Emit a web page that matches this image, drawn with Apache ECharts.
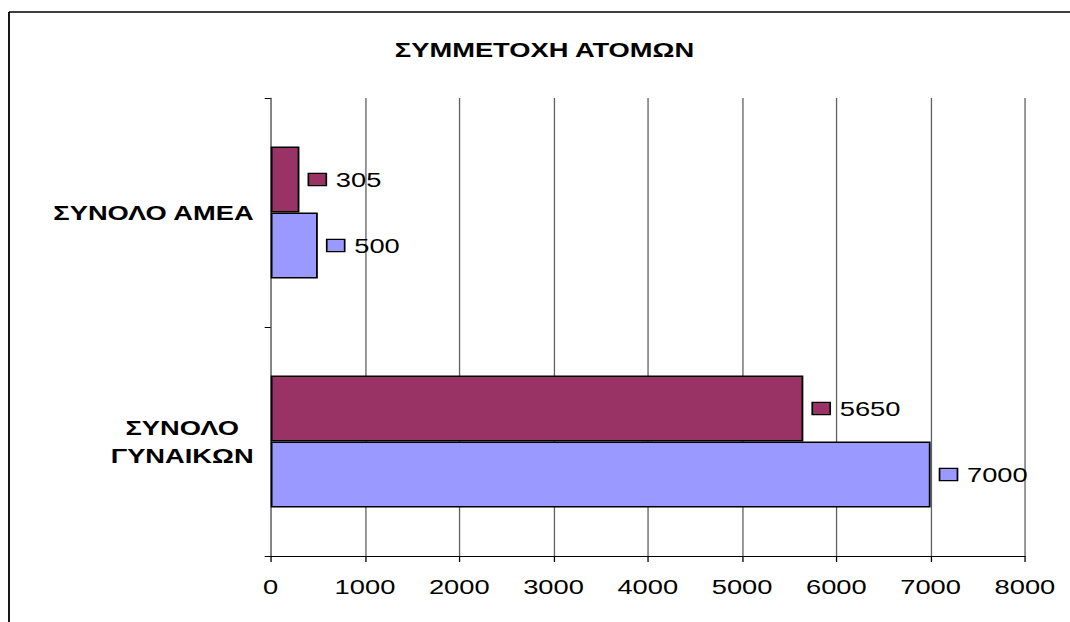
<!DOCTYPE html>
<html>
<head>
<meta charset="utf-8">
<script src="https://cdn.jsdelivr.net/npm/echarts@6/dist/echarts.min.js"></script>
<style>
  html, body { margin: 0; padding: 0; background: #fff; overflow: hidden; }
  #wrap { width: 1070px; height: 622px; overflow: hidden; }
  #c { width: 823px; height: 622px; transform: scaleX(1.3); transform-origin: 0 0; }
</style>
</head>
<body>
<div id="wrap"><div id="c"></div></div>
<script>
const S = 1.3; // horizontal stretch of the reference picture
const titleText = 'ΣΥΜΜΕΤΟΧΗ ΑΤΟΜΩΝ';
const categories = ['ΣΥΝΟΛΟ\nΓΥΝΑΙΚΩΝ', 'ΣΥΝΟΛΟ ΑΜΕΑ'];
const purpleValues = [5650, 305];
const blueValues = [7000, 500];
const xMin = 0, xMax = 8000, xInterval = 1000;

const FONT = 'Liberation Sans, Arial, sans-serif';
const BLUE = '#9999FF', PURPLE = '#993366';

function valueLabel(color) {
  return {
    show: true,
    position: 'right',
    distance: 7.5,
    formatter: p => '{sq|}{v|' + p.value + '}',
    rich: {
      sq: { width: 12.5, height: 11, backgroundColor: color, borderColor: '#000', borderWidth: 1.3 },
      v: { fontSize: 21, fontFamily: FONT, color: '#000', padding: [0, 0, 0, 8] }
    }
  };
}

const chart = echarts.init(document.getElementById('c'), null, { renderer: 'svg' });
chart.setOption({
  animation: false,
  backgroundColor: '#fff',
  title: {
    text: titleText,
    left: 538 / S, top: 34, textAlign: 'center',
    textStyle: { fontSize: 21, fontWeight: 'bold', fontFamily: FONT, color: '#000' }
  },
  graphic: [
    { type: 'line', silent: true, shape: { x1: 9 / S, y1: 12, x2: 2000, y2: 12 }, style: { stroke: '#000', lineWidth: 1.4 } },
    { type: 'line', silent: true, shape: { x1: 9 / S, y1: 12, x2: 9 / S, y2: 2000 }, style: { stroke: '#000', lineWidth: 1.4 } }
  ],
  grid: { left: 270.7 / S, right: 45 / S, top: 98, bottom: 66, containLabel: false },
  xAxis: {
    type: 'value', min: xMin, max: xMax, interval: xInterval,
    axisLine: { show: true, lineStyle: { color: '#000', width: 1.2 } },
    axisTick: { show: true, length: 6, lineStyle: { color: '#000' } },
    axisLabel: { fontSize: 21, fontFamily: FONT, color: '#000', margin: 20, formatter: v => String(v) },
    splitLine: { show: true, lineStyle: { color: '#606060', width: 1 } }
  },
  yAxis: {
    type: 'category', data: categories,
    axisLine: { show: true, lineStyle: { color: '#808080', width: 1.2 } },
    axisTick: { show: true, length: 6 / S, lineStyle: { color: '#000' } },
    axisLabel: {
      margin: 17 / S,
      formatter: v => v.indexOf('\n') >= 0
        ? v.split('\n').map(s => '{c|' + s + '}').join('\n')
        : '{a|' + v + '}',
      rich: {
        c: { width: 110, align: 'center', fontSize: 21, fontWeight: 'bold', fontFamily: FONT, color: '#000', lineHeight: 28 },
        a: { fontSize: 21, fontWeight: 'bold', fontFamily: FONT, color: '#000' }
      }
    }
  },
  series: [
    {
      name: 'Σειρά 2', type: 'bar', data: purpleValues, barWidth: 66, barGap: '0%',
      itemStyle: { color: PURPLE, borderColor: '#000', borderWidth: 1.4 },
      label: valueLabel(PURPLE)
    },
    {
      name: 'Σειρά 1', type: 'bar', data: blueValues, barWidth: 66, barGap: '0%',
      itemStyle: { color: BLUE, borderColor: '#000', borderWidth: 1.4 },
      label: valueLabel(BLUE)
    }
  ]
});
</script>
</body>
</html>
